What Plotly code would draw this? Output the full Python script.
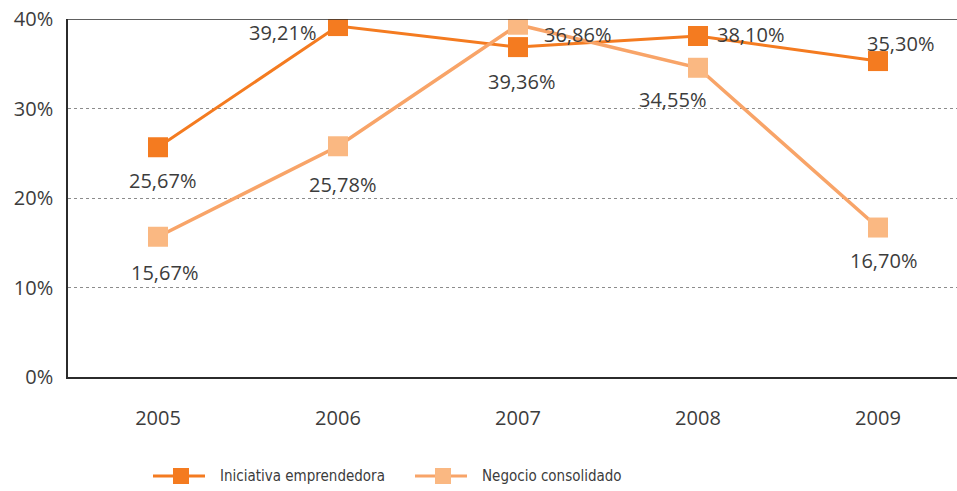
import plotly.graph_objects as go

# Data
years = ["2005", "2006", "2007", "2008", "2009"]
iniciativa = [25.67, 39.21, 36.86, 38.10, 35.30]
negocio = [15.67, 25.78, 39.36, 34.55, 16.70]
series_names = ["Iniciativa emprendedora", "Negocio consolidado"]
y_ticks = [0, 10, 20, 30, 40]
y_tick_text = ["0%", "10%", "20%", "30%", "40%"]

# Label offsets (pixels) for each point's value label
ini_shift = [(4, -33), (-55, -6), (60, 13), (53, 2), (23, 18)]
neg_shift = [(6, -36), (5, -38), (4, -57), (-25, -32), (6, -33)]

TEXT = "#3c3c3c"
FONT = "Open Sans"
LEGEND_FONT = "DejaVu Sans Condensed, Open Sans"
C_INI = "#F47B20"
C_NEG_LINE = "#F8A468"
C_NEG_MARK = "#FAB882"

W, H = 957, 491
M_L, M_R, M_T, M_B = 68, 0, 19, 114
PW, PH = W - M_L - M_R, H - M_T - M_B

xpos = list(range(len(years)))


def fmt(v):
    return f"{v:.2f}".replace(".", ",") + "%"


def px_x(p):
    return (p - M_L) / PW


def px_y(p):
    return (H - M_B - p) / PH


fig = go.Figure()
fig.add_trace(go.Scatter(
    x=xpos, y=iniciativa, name=series_names[0], mode="lines+markers",
    line=dict(color=C_INI, width=3),
    marker=dict(symbol="square", size=20, color=C_INI),
))
fig.add_trace(go.Scatter(
    x=xpos, y=negocio, name=series_names[1], mode="lines+markers",
    line=dict(color=C_NEG_LINE, width=3.5),
    marker=dict(symbol="square", size=20, color=C_NEG_MARK),
))

for vals, shifts in ((iniciativa, ini_shift), (negocio, neg_shift)):
    for xi, v, (dx, dy) in zip(xpos, vals, shifts):
        fig.add_annotation(
            x=xi, y=v, xref="x", yref="y", text=fmt(v), showarrow=False,
            xshift=dx, yshift=dy, font=dict(family=FONT, size=20, color=TEXT),
        )

# Legend drawn below the plot: line sample, square marker and name
legend_items = [
    (series_names[0], C_INI, C_INI, 153),
    (series_names[1], C_NEG_LINE, C_NEG_MARK, 415),
]
LEG_Y = 476
for name, lc, mc, x0 in legend_items:
    fig.add_shape(type="line", xref="paper", yref="paper",
                  x0=px_x(x0), x1=px_x(x0 + 52), y0=px_y(LEG_Y), y1=px_y(LEG_Y),
                  line=dict(color=lc, width=3))
    fig.add_shape(type="rect", xref="paper", yref="paper",
                  x0=px_x(x0 + 20), x1=px_x(x0 + 36),
                  y0=px_y(LEG_Y + 8), y1=px_y(LEG_Y - 8),
                  fillcolor=mc, line=dict(width=0))
    fig.add_annotation(x=px_x(x0 + 65), y=px_y(LEG_Y), xref="paper", yref="paper",
                       text=name, showarrow=False, xanchor="left", yanchor="middle",
                       font=dict(family=LEGEND_FONT, size=15, color=TEXT))

fig.update_layout(
    width=W, height=H,
    margin=dict(l=M_L, r=M_R, t=M_T, b=M_B),
    paper_bgcolor="white", plot_bgcolor="white",
    font=dict(family=FONT, color=TEXT),
    showlegend=False,
)
fig.add_shape(type="line", xref="paper", yref="y", x0=0, x1=1, y0=40, y1=40,
              line=dict(color="#2b2b2b", width=1.5))

fig.update_xaxes(
    range=[-0.5, 4.439], tickmode="array", tickvals=xpos, ticktext=years,
    showgrid=False, zeroline=False,
    showline=True, linecolor="#2b2b2b", linewidth=1.5,
    ticks="", ticklabelstandoff=22,
    tickfont=dict(family=FONT, size=20, color=TEXT),
)
fig.update_yaxes(
    range=[0, 40], tickmode="array", tickvals=y_ticks, ticktext=y_tick_text,
    showgrid=True, gridcolor="#8c8c8c", griddash="dot", gridwidth=1,
    showline=True, linecolor="#2b2b2b", linewidth=1.5,
    zeroline=False, ticks="", ticklabelstandoff=9,
    tickfont=dict(family=FONT, size=20, color=TEXT),
)

fig.write_html("out.html")
